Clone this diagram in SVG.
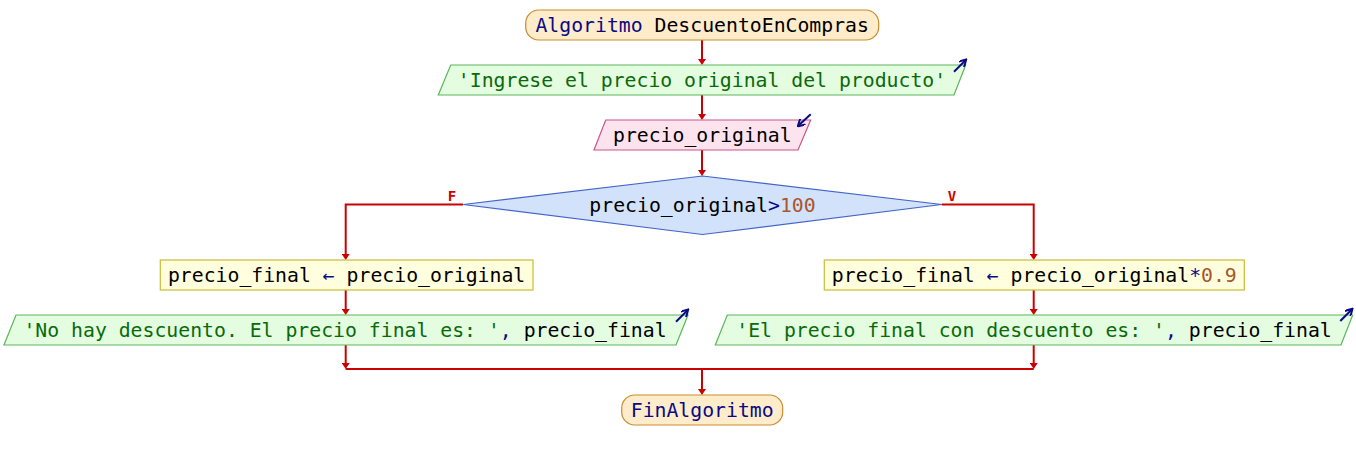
<svg xmlns="http://www.w3.org/2000/svg" width="1356" height="460" viewBox="0 0 1356 460">
<style>
text{font-family:"DejaVu Sans Mono","Liberation Mono",monospace;font-size:19.8px;text-anchor:middle;fill:#000}
.term{fill:#feeccb;stroke:#c98b2e;stroke-width:1.2}
.out{fill:#e4fce0;stroke:#5bb55b;stroke-width:1.2}
.inp{fill:#fde3ee;stroke:#c9558a;stroke-width:1.2}
.dec{fill:#d3e2fb;stroke:#4465c8;stroke-width:1.2}
.asg{fill:#fffedd;stroke:#c6bd3a;stroke-width:1.2}
.kw{fill:#0a0a85}
.str{fill:#0a6a0a}
.num{fill:#a8562b}
.conn{fill:none;stroke:#cc0000;stroke-width:2}
.lbl{fill:#cc0000;font-size:14px;font-weight:bold}
.io{stroke:#0a0a85;stroke-width:2;fill:none}
</style>
<defs>
<marker id="ah" viewBox="0 0 6 8" refX="2" refY="4" markerWidth="6" markerHeight="8" orient="auto" markerUnits="userSpaceOnUse">
<path d="M0,0 L6,4 L0,8 z" fill="#cc0000"/>
</marker>
<marker id="ioh" viewBox="0 0 8 8" refX="6" refY="4" markerWidth="8" markerHeight="8" orient="auto" markerUnits="userSpaceOnUse">
<path d="M0,0 L7,4 L0,8" fill="none" stroke="#0a0a85" stroke-width="2"/>
</marker>
</defs>

<g id="connectors">
<path class="conn" d="M702,40 V61" marker-end="url(#ah)"/>
<path class="conn" d="M702,95 V116" marker-end="url(#ah)"/>
<path class="conn" d="M702,150 V172" marker-end="url(#ah)"/>
<path class="conn" d="M463,204.5 H345.7 V256" marker-end="url(#ah)"/>
<path class="conn" d="M941.7,204.5 H1033.7 V256" marker-end="url(#ah)"/>
<path class="conn" d="M345.7,290 V311" marker-end="url(#ah)"/>
<path class="conn" d="M1033.7,290 V311" marker-end="url(#ah)"/>
<path class="conn" d="M345.7,345 V365" marker-end="url(#ah)"/>
<path class="conn" d="M1033.7,345 V365" marker-end="url(#ah)"/>
<path class="conn" d="M345.7,369 H1033.7"/>
<path class="conn" d="M702,369 V391" marker-end="url(#ah)"/>
<text class="lbl" x="452" y="201">F</text>
<text class="lbl" x="952" y="201">V</text>
</g>

<g id="start">
<rect class="term" x="525.7" y="10" width="353" height="30" rx="13" ry="13"/>
<text x="702.2" y="32"><tspan class="kw">Algoritmo</tspan> DescuentoEnCompras</text>
</g>

<g id="out1">
<polygon class="out" points="450.7,65 965.7,65 954,95 438.3,95"/>
<text x="702" y="87"><tspan class="str">'Ingrese el precio original del producto'</tspan></text>
<path class="io" d="M954,71.7 L965.5,60.2" marker-end="url(#ioh)"/>
</g>

<g id="in1">
<polygon class="inp" points="605.7,120 810.7,120 798,150 594,150"/>
<text x="702.3" y="142">precio_original</text>
<path class="io" d="M810.7,114.3 L798.5,125.6" marker-end="url(#ioh)"/>
</g>

<g id="cond">
<polygon class="dec" points="702.5,176 941.7,204.5 702.5,234.5 463.3,204.5"/>
<text x="702.5" y="212">precio_original<tspan class="kw">&gt;</tspan><tspan class="num">100</tspan></text>
</g>

<g id="assignF">
<rect class="asg" x="160.3" y="260" width="372.7" height="30"/>
<text x="346.6" y="282">precio_final <tspan class="kw">←</tspan> precio_original</text>
</g>

<g id="assignV">
<rect class="asg" x="824.3" y="260" width="420" height="30"/>
<text x="1034.3" y="282">precio_final <tspan class="kw">←</tspan> precio_original<tspan class="kw">*</tspan><tspan class="num">0.9</tspan></text>
</g>

<g id="outF">
<polygon class="out" points="16,315 688,315 676,345 4,345"/>
<text x="345" y="337"><tspan class="str">'No hay descuento. El precio final es: '</tspan><tspan class="kw">,</tspan> precio_final</text>
<path class="io" d="M676,321.7 L687.5,310.2" marker-end="url(#ioh)"/>
</g>

<g id="outV">
<polygon class="out" points="727.3,315 1352.7,315 1341,345 715.3,345"/>
<text x="1034" y="337"><tspan class="str">'El precio final con descuento es: '</tspan><tspan class="kw">,</tspan> precio_final</text>
<path class="io" d="M1340.3,321 L1351.8,309.5" marker-end="url(#ioh)"/>
</g>

<g id="end">
<rect class="term" x="621.7" y="395" width="161" height="30" rx="13" ry="13"/>
<text x="702.2" y="417"><tspan class="kw">FinAlgoritmo</tspan></text>
</g>
</svg>
